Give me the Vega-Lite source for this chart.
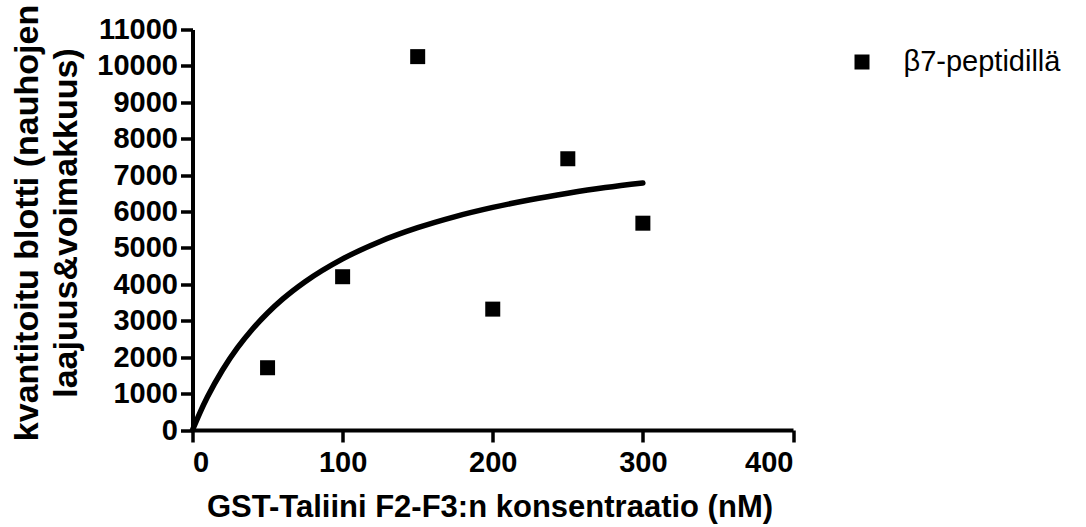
{
  "$schema": "https://vega.github.io/schema/vega-lite/v6.json",
  "width": 600.5,
  "height": 400.5,
  "autosize": "none",
  "padding": {"left": 192.5, "top": 29.5, "right": 293, "bottom": 97},
  "background": "white",
  "config": {
    "view": {"stroke": null},
    "font": "Liberation Sans",
    "axis": {
      "domainColor": "black",
      "domainWidth": 4,
      "tickColor": "black",
      "tickWidth": 3.5,
      "tickSize": 12,
      "grid": false,
      "labelOverlap": false,
      "labelFont": "Liberation Sans",
      "labelFontWeight": "bold",
      "labelFontSize": 29,
      "labelColor": "black",
      "titleFont": "Liberation Sans",
      "titleFontWeight": "bold",
      "titleColor": "black"
    }
  },
  "datasets": {
    "points": [
      {"x": 50, "y": 1710, "series": "β7-peptidillä"},
      {"x": 100, "y": 4210, "series": "β7-peptidillä"},
      {"x": 150, "y": 10255, "series": "β7-peptidillä"},
      {"x": 200, "y": 3320, "series": "β7-peptidillä"},
      {"x": 250, "y": 7450, "series": "β7-peptidillä"},
      {"x": 300, "y": 5680, "series": "β7-peptidillä"}
    ],
    "curve": [
      {"x": 0, "y": 0},
      {"x": 5, "y": 480},
      {"x": 10, "y": 911},
      {"x": 20, "y": 1649},
      {"x": 30, "y": 2261},
      {"x": 40, "y": 2775},
      {"x": 50, "y": 3214},
      {"x": 60, "y": 3593},
      {"x": 75, "y": 4072},
      {"x": 100, "y": 4700},
      {"x": 125, "y": 5179},
      {"x": 150, "y": 5556},
      {"x": 175, "y": 5862},
      {"x": 200, "y": 6113},
      {"x": 225, "y": 6325},
      {"x": 250, "y": 6504},
      {"x": 275, "y": 6659},
      {"x": 300, "y": 6785}
    ]
  },
  "encoding": {
    "x": {
      "field": "x",
      "type": "quantitative",
      "scale": {"domain": [0, 400], "nice": false, "zero": true},
      "axis": {
        "values": [0, 100, 200, 300, 400],
        "format": "d",
        "labelBaseline": "middle",
        "labelPadding": 20,
        "title": "GST-Taliini F2-F3:n konsentraatio (nM)",
        "titleFontSize": 31,
        "titleBaseline": "middle",
        "titleY": 77,
        "titleX": 297
      }
    },
    "y": {
      "field": "y",
      "type": "quantitative",
      "scale": {"domain": [0, 11000], "nice": false},
      "axis": {
        "values": [0, 1000, 2000, 3000, 4000, 5000, 6000, 7000, 8000, 9000, 10000, 11000],
        "format": "d",
        "labelPadding": 3,
        "title": ["kvantitoitu blotti (nauhojen", "laajuus&voimakkuus)"],
        "titleFontSize": 34,
        "titleLineHeight": 39,
        "titleBaseline": "middle",
        "titleX": -165,
        "titleY": 193
      }
    }
  },
  "layer": [
    {
      "data": {"name": "curve"},
      "mark": {"type": "line", "color": "black", "strokeWidth": 5.5, "strokeCap": "round", "interpolate": "monotone"}
    },
    {
      "data": {"name": "points"},
      "mark": {"type": "point", "shape": "square", "filled": true, "size": 225, "opacity": 1},
      "encoding": {
        "color": {
          "field": "series",
          "type": "nominal",
          "scale": {"range": ["black"]},
          "legend": {
            "title": null,
            "orient": "none",
            "legendX": 655,
            "legendY": 18,
            "symbolType": "square",
            "symbolSize": 225,
            "symbolFillColor": "black",
            "symbolStrokeWidth": 0,
            "labelFont": "Liberation Sans",
            "labelFontSize": 29,
            "labelLimit": 400,
            "labelColor": "black",
            "labelOffset": 27
          }
        }
      }
    }
  ]
}
